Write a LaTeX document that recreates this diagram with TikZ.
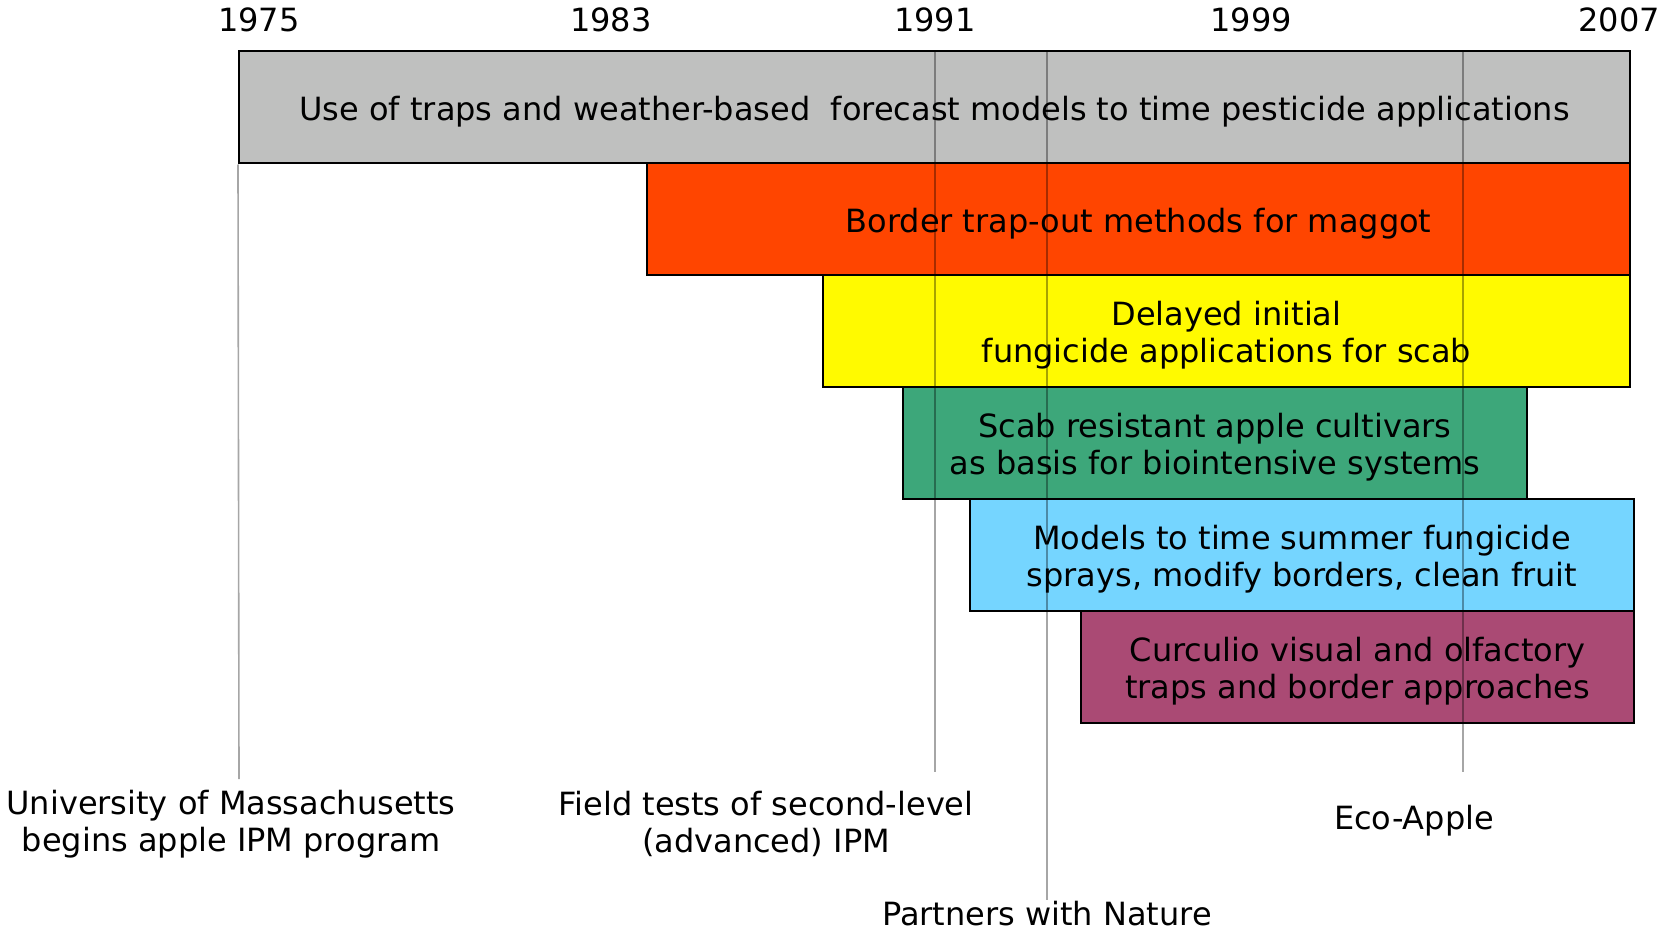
\documentclass[tikz,border=0pt]{standalone}
\usepackage{fontspec}
\setmainfont{DejaVu Sans}
\usepackage{tikz}
\usetikzlibrary{positioning}
\usepackage{xcolor}
\definecolor{trapgray}{RGB}{191,192,191}
\definecolor{maggotred}{RGB}{255,69,0}
\definecolor{scabyellow}{RGB}{255,250,0}
\definecolor{cultgreen}{RGB}{61,167,122}
\definecolor{summerblue}{RGB}{117,213,255}
\definecolor{curcpurple}{RGB}{170,74,116}
\newcommand{\boxstrut}{\rule{0pt}{16.4pt}}

\begin{document}
\begin{tikzpicture}[x=0.5pt,y=-0.5pt,
  txt/.style={font=\fontsize{16}{18.6}\selectfont, inner sep=0pt, align=center},
  period/.style={txt, draw=black, line width=1pt, minimum height=56pt},
  yearline/.style={black, opacity=.35, line width=.8pt}]
\useasboundingbox (0,0) rectangle (1660,931);
% years along the top
\node[txt] (y1975) at (259,20) {1975};
\node[txt] (y1983) at (611,20) {1983};
\node[txt] (y1991) at (935,20) {1991};
\node[txt] (y1999) at (1251,20) {1999};
\node[txt] (y2007) at (1619,20) {2007};
% the periods
\node[period, fill=trapgray, minimum width=695.5pt] (traps) at (934.5,107.5)
  {\boxstrut Use of traps and weather-based\ \ forecast models to time pesticide applications};
\node[period, fill=maggotred, minimum width=491.5pt] (maggot) at (1138.5,219)
  {\boxstrut Border trap-out methods for maggot};
\node[period, fill=scabyellow, minimum width=403.5pt] (delayed) at (1226.5,331)
  {\boxstrut Delayed initial\\fungicide applications for scab};
\node[period, fill=cultgreen, minimum width=312pt] (cultivars) at (1215,443)
  {\boxstrut Scab resistant apple cultivars\\as basis for biointensive systems};
\node[period, fill=summerblue, minimum width=332pt] (summer) at (1302,555)
  {\boxstrut Models to time summer fungicide\\sprays, modify borders, clean fruit};
\node[period, fill=curcpurple, minimum width=276.5pt] (curculio) at (1357.5,667)
  {\boxstrut Curculio visual and olfactory\\traps and border approaches};
% events below
\node[txt] (umass) at (231,824) {University of Massachusetts\\begins apple IPM program};
\node[txt] (fieldtests) at (766,824) {Field tests of second-level\\(advanced) IPM};
\node[txt] (ecoapple) at (1414,821) {Eco-Apple};
\node[txt] (partners) at (1047,914) {Partners with Nature};
\coordinate (top91) at (935,52);
\coordinate (bot91) at (935,772);
\coordinate (top94) at (1047,52);
\coordinate (bot94) at (1047,900);
\coordinate (top03) at (1463,52);
\coordinate (bot03) at (1463,772);
\coordinate (bot75) at (239,779);
\draw[yearline] (traps.south west) -- (bot75);
\draw[yearline] (top91) -- (bot91);
\draw[yearline] (top94) -- (bot94);
\draw[yearline] (top03) -- (bot03);
\end{tikzpicture}
\end{document}
